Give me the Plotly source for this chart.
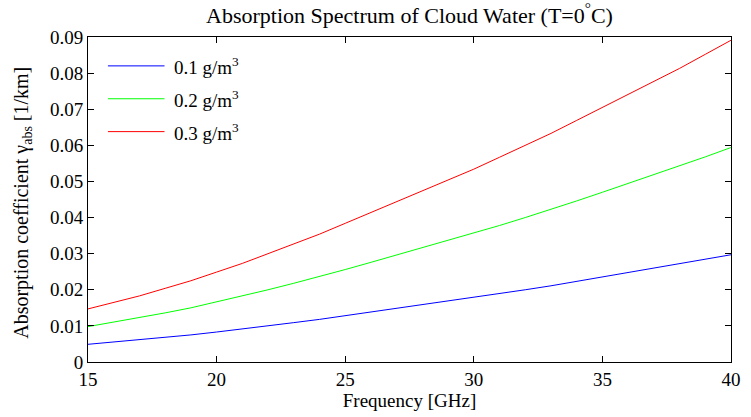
import plotly.graph_objects as go

# Frequency grid [GHz]
freq_ghz = list(range(15, 41))

# Absorption coefficient [1/km] for three liquid water contents
gamma_01 = [0.0049, 0.0055, 0.0061, 0.0068, 0.0075, 0.0083, 0.0091, 0.0100, 0.0109,
            0.0118, 0.0128, 0.0138, 0.0148, 0.0158, 0.0168, 0.0178, 0.0189, 0.0200,
            0.0211, 0.0223, 0.0235, 0.0247, 0.0259, 0.0271, 0.0284, 0.0297]
gamma_02 = [0.0098, 0.0110, 0.0122, 0.0136, 0.0150, 0.0166, 0.0182, 0.0200, 0.0218,
            0.0236, 0.0256, 0.0276, 0.0296, 0.0316, 0.0336, 0.0356, 0.0378, 0.0400,
            0.0422, 0.0446, 0.0470, 0.0494, 0.0518, 0.0542, 0.0568, 0.0594]
gamma_03 = [0.0147, 0.0165, 0.0183, 0.0204, 0.0225, 0.0249, 0.0273, 0.0300, 0.0327,
            0.0354, 0.0384, 0.0414, 0.0444, 0.0474, 0.0504, 0.0534, 0.0567, 0.0600,
            0.0633, 0.0669, 0.0705, 0.0741, 0.0777, 0.0813, 0.0852, 0.0891]

series_labels = ["0.1 g/m<sup>3</sup>", "0.2 g/m<sup>3</sup>", "0.3 g/m<sup>3</sup>"]
series_colors = ["#0000ff", "#00ff00", "#ff0000"]

x_ticks = [15, 20, 25, 30, 35, 40]
y_ticks = [0, 0.01, 0.02, 0.03, 0.04, 0.05, 0.06, 0.07, 0.08, 0.09]
y_tick_text = ["0", "0.01", "0.02", "0.03", "0.04", "0.05", "0.06", "0.07", "0.08", "0.09"]

FONT = "'Liberation Serif', 'Times New Roman', serif"

fig = go.Figure()
for ys, name, color in zip([gamma_01, gamma_02, gamma_03], series_labels, series_colors):
    fig.add_trace(go.Scatter(x=freq_ghz, y=ys, mode="lines", name=name,
                             line=dict(color=color, width=1), showlegend=False))

# Legend drawn as short line samples with labels in the upper-left corner
for i, (name, color) in enumerate(zip(series_labels, series_colors)):
    ypos = 0.09 - 0.0080 - i * 0.0091
    fig.add_shape(type="line", xref="paper", yref="y", x0=0.031, x1=0.119,
                  y0=ypos, y1=ypos, line=dict(color=color, width=1))
    fig.add_annotation(xref="paper", yref="y", x=0.13, y=ypos, text=name,
                       showarrow=False, xanchor="left", yanchor="middle",
                       font=dict(family=FONT, size=19, color="black"))

# Rotated y-axis title
fig.add_annotation(xref="paper", yref="paper", x=-0.101, y=0.49,
                   text="Absorption coefficient γ<sub>abs</sub> [1/km]",
                   textangle=-90, showarrow=False, xanchor="center", yanchor="middle",
                   font=dict(family=FONT, size=20, color="black"))

axis_common = dict(showline=True, linecolor="black", linewidth=1, mirror="ticks",
                   ticks="inside", ticklen=6, tickwidth=1, tickcolor="black",
                   showgrid=False, zeroline=False,
                   tickfont=dict(family=FONT, size=19, color="black"))

fig.update_layout(
    width=751, height=417,
    margin=dict(l=88, r=10, t=37, b=53),
    paper_bgcolor="white", plot_bgcolor="white",
    title=dict(text="Absorption Spectrum of Cloud Water (T=0<sup>°</sup>C)",
               x=0.5, xref="paper", xanchor="center",
               y=(417 - 15) / 417, yref="container", yanchor="middle",
               font=dict(family=FONT, size=22, color="black")),
    xaxis=dict(range=[15, 40], tickvals=x_ticks,
               title=dict(text="Frequency [GHz]", standoff=4,
                          font=dict(family=FONT, size=19, color="black")),
               **axis_common),
    yaxis=dict(range=[0, 0.09], tickvals=y_ticks, ticktext=y_tick_text, **axis_common),
)

fig.write_html("out.html")
